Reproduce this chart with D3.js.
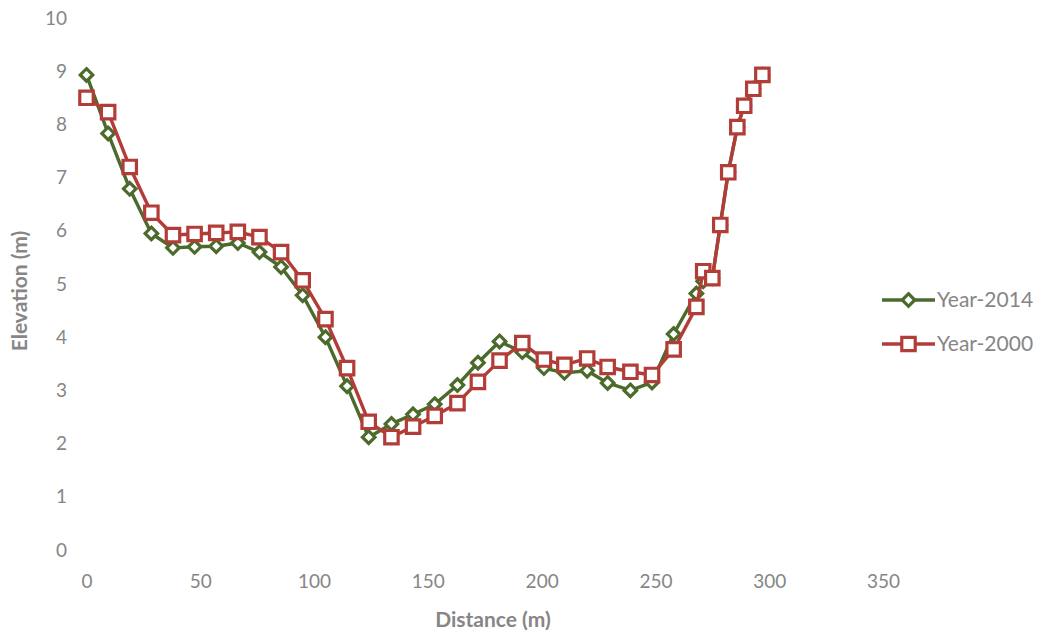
<!DOCTYPE html>
<html>
<head>
<meta charset="utf-8">
<script src="https://cdn.jsdelivr.net/npm/d3@7"></script>
<style>
  html, body { margin: 0; padding: 0; background: #fff; }
  svg { display: block; font-family: Lato, "Open Sans", sans-serif; }
</style>
</head>
<body>
<svg id="chart" width="1047" height="637"></svg>
<script>
// Cross-section survey points along the transect (m)
const distance = [0, 9.5, 19, 28.5, 38, 47.5, 57, 66.5, 76, 85.5, 95, 105, 114.5, 124, 134,
  143.5, 153, 163, 172, 181.5, 191.5, 201, 210, 220, 229, 239, 248.5, 258, 268, 271,
  275, 278.5, 282, 286, 289, 293, 297];

// Bed elevation (m) for each survey
const elev2014 = [8.93, 7.83, 6.79, 5.95, 5.68, 5.7, 5.71, 5.77, 5.6, 5.32, 4.79, 4.0, 3.08,
  2.12, 2.37, 2.55, 2.74, 3.1, 3.52, 3.92, 3.72, 3.42, 3.33, 3.37, 3.14, 3.0, 3.15, 4.06,
  4.82, 5.05, 5.11, 6.11, 7.1, 7.95, 8.35, 8.67, 8.93];
const elev2000 = [8.5, 8.23, 7.2, 6.34, 5.92, 5.94, 5.96, 5.98, 5.88, 5.6, 5.07, 4.34, 3.42,
  2.41, 2.12, 2.32, 2.52, 2.76, 3.16, 3.56, 3.89, 3.58, 3.48, 3.6, 3.44, 3.35, 3.29, 3.77,
  4.57, 5.24, 5.11, 6.11, 7.1, 7.95, 8.35, 8.67, 8.93];

const xTicks = [0, 50, 100, 150, 200, 250, 300, 350];
const yTicks = [0, 1, 2, 3, 4, 5, 6, 7, 8, 9, 10];
const seriesNames = ["Year-2014", "Year-2000"];
const seriesColors = ["#4b6a2b", "#b23c38"];

const svg = d3.select("#chart");
const x = d3.scaleLinear().domain([0, 350]).range([86.5, 883]);
const y = d3.scaleLinear().domain([0, 10]).range([550, 18]);

const textColor = "#868686";
const fontFam = "Lato, 'Open Sans', sans-serif";

// Axes: labels only, no domain line or tick marks
const xAxis = svg.append("g")
  .attr("transform", "translate(0,550)")
  .call(d3.axisBottom(x).tickValues(xTicks).tickSize(0).tickPadding(25));
xAxis.select(".domain").remove();
xAxis.selectAll("text").attr("fill", textColor).style("font-size", "19px")
  .style("font-family", fontFam);

const yAxis = svg.append("g")
  .attr("transform", "translate(67,0)")
  .call(d3.axisLeft(y).tickValues(yTicks).tickSize(0).tickPadding(0));
yAxis.select(".domain").remove();
yAxis.selectAll("text").attr("fill", textColor).style("font-size", "19px")
  .style("font-family", fontFam);

// Axis titles
svg.append("text")
  .attr("x", 493).attr("y", 627)
  .attr("text-anchor", "middle")
  .attr("fill", textColor)
  .style("font-size", "21px").style("font-weight", "bold")
  .text("Distance (m)");

svg.append("text")
  .attr("transform", "translate(27,291) rotate(-90)")
  .attr("text-anchor", "middle")
  .attr("fill", textColor)
  .style("font-size", "21px").style("font-weight", "bold")
  .text("Elevation (m)");

const line = d3.line().x(d => x(d[0])).y(d => y(d[1]));

const diamond = d3.symbol().type(d3.symbolDiamond2).size(100);
const square = d3.symbol().type(d3.symbolSquare2).size(230);

function drawSeries(vals, color, shape) {
  const pts = distance.map((d, i) => [d, vals[i]]);
  const g = svg.append("g");
  g.append("path")
    .datum(pts)
    .attr("d", line)
    .attr("fill", "none")
    .attr("stroke", color)
    .attr("stroke-width", 3.4)
    .attr("stroke-linejoin", "round");
  g.selectAll("path.mk")
    .data(pts)
    .join("path")
    .attr("class", "mk")
    .attr("d", shape)
    .attr("transform", d => `translate(${x(d[0])},${y(d[1])})`)
    .attr("fill", "#fff")
    .attr("stroke", color)
    .attr("stroke-width", 3.2);
}

drawSeries(elev2014, seriesColors[0], diamond);
drawSeries(elev2000, seriesColors[1], square);

// Legend
const legend = svg.append("g");
[[elev2014, diamond], [elev2000, square]].forEach((s, i) => {
  const ly = 300 + i * 44;
  legend.append("line")
    .attr("x1", 882).attr("x2", 935).attr("y1", ly).attr("y2", ly)
    .attr("stroke", seriesColors[i]).attr("stroke-width", 3.4);
  legend.append("path")
    .attr("d", s[1])
    .attr("transform", `translate(908.5,${ly})`)
    .attr("fill", "#fff")
    .attr("stroke", seriesColors[i])
    .attr("stroke-width", 3.2);
  legend.append("text")
    .attr("x", 937).attr("y", ly + 7)
    .attr("fill", textColor)
    .style("font-size", "21px")
    .text(seriesNames[i]);
});
</script>
</body>
</html>
